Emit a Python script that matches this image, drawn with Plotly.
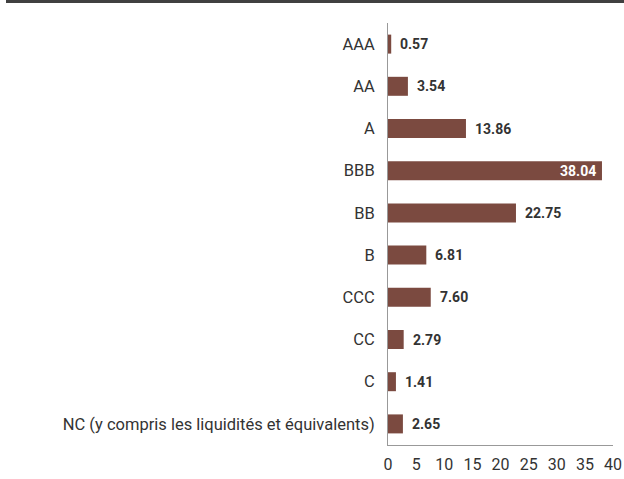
import plotly.graph_objects as go

categories = ["AAA", "AA", "A", "BBB", "BB", "B", "CCC", "CC", "C",
              "NC (y compris les liquidités et équivalents)"]
values = [0.57, 3.54, 13.86, 38.04, 22.75, 6.81, 7.60, 2.79, 1.41, 2.65]
x_ticks = [0, 5, 10, 15, 20, 25, 30, 35, 40]

BAR = "#7b4a40"
FONT = "Roboto, Liberation Sans, sans-serif"

fig = go.Figure(go.Bar(
    y=categories, x=values, orientation="h",
    marker=dict(color=BAR, line=dict(width=0)),
    hoverinfo="x+y",
))

annotations = []
for c, v in zip(categories, values):
    inside = v > 30
    annotations.append(dict(
        x=v, y=c, xref="x", yref="y", text=f"<b>{v:.2f}</b>", showarrow=False,
        xanchor="right" if inside else "left", xshift=-4 if inside else 7,
        font=dict(family=FONT, size=14, color="white" if inside else "#333333"),
    ))

L, R, T, B = 388, 11, 23, 34
W, H = 624, 479
pw, ph = W - L - R, H - T - B

fig.update_layout(
    width=W, height=H,
    margin=dict(l=L, r=R, t=T, b=B, pad=0),
    paper_bgcolor="white", plot_bgcolor="white",
    bargap=0.55,
    showlegend=False,
    font=dict(family=FONT, size=16, color="#333333"),
    annotations=annotations,
    xaxis=dict(range=[0, 40], tickvals=x_ticks, showgrid=False, zeroline=False,
               showline=True, linecolor="#999999", linewidth=1, ticks="",
               automargin=False,
               tickfont=dict(family=FONT, size=16, color="#333333"), ticklabelstandoff=5,
               fixedrange=True),
    yaxis=dict(autorange="reversed", showgrid=False, zeroline=False,
               showline=True, linecolor="#999999", linewidth=1, ticks="",
               automargin=False, ticklabelstandoff=9,
               tickfont=dict(family=FONT, size=16.5, color="#333333"), fixedrange=True),
    shapes=[dict(type="rect", xref="paper", yref="paper",
                 x0=(6 - L) / pw, x1=(W - L) / pw,
                 y0=1 + (T - 3) / ph, y1=1 + T / ph,
                 fillcolor="#404040", line=dict(width=0), layer="above")],
)

fig.write_html("out.html", config={"displayModeBar": False},
               post_script="document.body.style.margin='0';document.body.style.overflow='hidden';")
